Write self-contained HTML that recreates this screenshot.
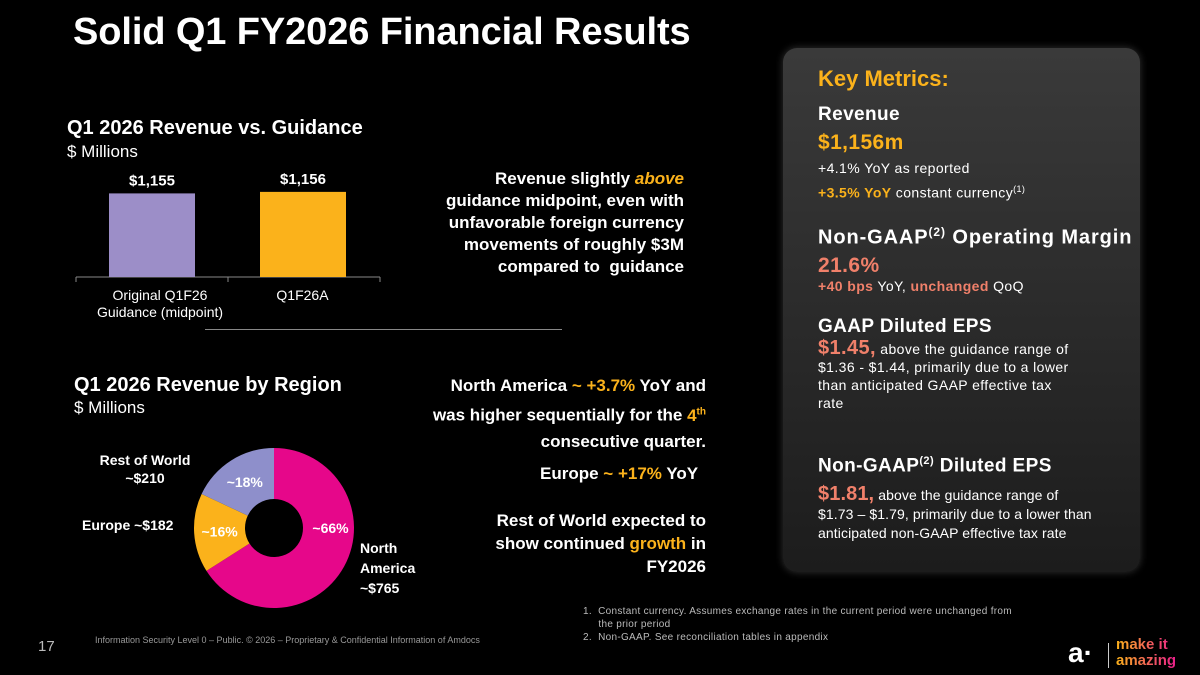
<!DOCTYPE html>
<html><head><meta charset="utf-8"><style>
body{margin:0;width:1200px;height:675px;background:#000;overflow:hidden;position:relative;font-family:"Century Gothic","Liberation Sans",sans-serif;color:#fff}
.a{position:absolute;white-space:nowrap}
.b{font-weight:bold}
.y{color:#fbb21b}.o{color:#f0806a}
.p{letter-spacing:0.4px}
</style></head><body>
<div class="a b" style="left:73px;top:11px;font-size:38px;letter-spacing:-0.1px">Solid Q1 FY2026 Financial Results</div>
<div class="a b" style="left:67px;top:117px;font-size:20px">Q1 2026 Revenue vs. Guidance</div>
<div class="a" style="left:67px;top:142px;font-size:17px">$ Millions</div>
<svg class="a" style="left:0;top:0" width="600" height="620" id="svg"></svg>
<div class="a" style="left:60px;top:287px;width:200px;text-align:center;font-size:14px;line-height:17px">Original Q1F26<br>Guidance (midpoint)</div>
<div class="a" style="left:230px;top:287px;width:145px;text-align:center;font-size:14px">Q1F26A</div>
<div class="a b" style="left:384px;top:168px;width:300px;text-align:right;font-size:17px;line-height:22px">Revenue slightly <span class="y" style="font-style:italic">above</span><br>guidance midpoint, even with<br>unfavorable foreign currency<br>movements of roughly $3M<br>compared to &nbsp;guidance</div>
<div class="a" style="left:205px;top:329px;width:357px;height:1px;background:#888"></div>
<div class="a b" style="left:74px;top:374px;font-size:20px">Q1 2026 Revenue by Region</div>
<div class="a" style="left:74px;top:398px;font-size:17px">$ Millions</div>
<div class="a b" style="left:380px;top:373px;width:326px;text-align:right;font-size:17px;line-height:26px">North America <span class="y">~ +3.7%</span> YoY and<br>was higher sequentially for the <span class="y">4<sup style="font-size:10px">th</sup></span><br>consecutive quarter.</div>
<div class="a b" style="left:540px;top:464px;font-size:17px">Europe <span class="y">~ +17%</span> YoY</div>
<div class="a b" style="left:440px;top:509px;width:266px;text-align:right;font-size:17px;line-height:23px">Rest of World expected to<br>show continued <span class="y">growth</span> in<br>FY2026</div>
<div class="a b" style="left:90px;top:451px;width:110px;text-align:center;font-size:14px;line-height:18px">Rest of World<br>~$210</div>
<div class="a b" style="left:82px;top:517px;font-size:14px">Europe ~$182</div>
<div class="a b" style="left:360px;top:538px;font-size:14px;line-height:20px">North<br>America<br>~$765</div>
<div class="a" style="left:783px;top:48px;width:357px;height:524px;border-radius:14px;background:linear-gradient(180deg,#3a3a3a,#1c1c1c);box-shadow:0 0 8px #333"></div>
<div class="a b y" style="left:818px;top:66px;font-size:22px">Key Metrics:</div>
<div class="a b p" style="left:818px;top:104px;font-size:19px">Revenue</div>
<div class="a b y p" style="left:818px;top:131px;font-size:21px">$1,156m</div>
<div class="a p" style="left:818px;top:160px;font-size:14px">+4.1% YoY as reported</div>
<div class="a p" style="left:818px;top:184px;font-size:14px"><b class="y">+3.5% YoY</b> constant currency<sup style="font-size:9px">(1)</sup></div>
<div class="a b p" style="left:818px;top:225px;font-size:20px;letter-spacing:0.9px">Non-GAAP<sup style="font-size:12px">(2)</sup> Operating Margin</div>
<div class="a b o p" style="left:818px;top:254px;font-size:21px">21.6%</div>
<div class="a p" style="left:818px;top:278px;font-size:14px"><b class="o">+40 bps</b> YoY, <b class="o">unchanged</b> QoQ</div>
<div class="a b p" style="left:818px;top:316px;font-size:19px">GAAP Diluted EPS</div>
<div class="a p" style="left:818px;top:339px;font-size:14px;line-height:18px"><b class="o" style="font-size:20px">$1.45,</b> above the guidance range of<br>$1.36 - $1.44, primarily due to a lower<br>than anticipated GAAP effective tax<br>rate</div>
<div class="a b p" style="left:818px;top:455px;font-size:19px">Non-GAAP<sup style="font-size:11px">(2)</sup> Diluted EPS</div>
<div class="a" style="left:818px;top:485px;font-size:14px;line-height:19px;letter-spacing:0.1px"><b class="o" style="font-size:20px">$1.81,</b> above the guidance range of<br>$1.73 – $1.79, primarily due to a lower than<br>anticipated non-GAAP effective tax rate</div>
<div class="a" style="left:583px;top:605px;font-size:10px;line-height:13px;color:#bbb;letter-spacing:0.3px">1.&nbsp; Constant currency. Assumes exchange rates in the current period were unchanged from<br>&nbsp;&nbsp;&nbsp;&nbsp; the prior period<br>2.&nbsp; Non-GAAP. See reconciliation tables in appendix</div>
<div class="a" style="left:38px;top:638px;font-size:15px;color:#bbb">17</div>
<div class="a" style="left:95px;top:635px;font-size:9px;color:#999">Information Security Level 0 – Public. © 2026 – Proprietary &amp; Confidential Information of Amdocs</div>
<div class="a b" style="left:1068px;top:640px;font-size:28px;line-height:26px">a·</div>
<div class="a" style="left:1108px;top:643px;width:1px;height:25px;background:#ccc"></div>
<div class="a b" style="left:1116px;top:637px;font-size:15px;line-height:16px;background:linear-gradient(90deg,#fbb21b,#e91e8c);-webkit-background-clip:text;color:transparent">make it<br>amazing</div>
<script>
const barCats=["Original Q1F26 Guidance (midpoint)","Q1F26A"];
const barVals=[1155,1156];
const barLabels=["$1,155","$1,156"];
const regions=["North America","Europe","Rest of World"];
const regionShares=[66,16,18];
const regionPctLabels=["~66%","~16%","~18%"];
const svg=document.getElementById('svg');const NS="http://www.w3.org/2000/svg";
function mk(t,a){const e=document.createElementNS(NS,t);for(const k in a)e.setAttribute(k,a[k]);svg.appendChild(e);return e;}
const base=277,yv=v=>base-(v-1100)*1.52,barColors=["#9c8ec8","#fbb21b"];
const ax=mk('line',{x1:76,y1:base,x2:380,y2:base,stroke:'#888','stroke-width':1});


[76,228,380].forEach(x=>{const t=mk('line',{x1:x,y1:base,x2:x,y2:base+5,stroke:'#888'});

});
barVals.forEach((v,i)=>{const cx=152+i*151;
const r=mk('rect',{x:cx-43,y:yv(v),width:86,height:base-yv(v),fill:barColors[i]});


const t=mk('text',{x:cx,y:yv(v)-8,'text-anchor':'middle',fill:'#fff','font-size':15,'font-weight':'bold','font-family':'Liberation Sans,sans-serif'});t.textContent=barLabels[i];

});
const cx=274,cy=528,R=80,r0=29,cols=["#e6078a","#fbb21b","#8e8fcb"];
const tot=regionShares.reduce((a,b)=>a+b,0);let a0=0;
regionShares.forEach((s,i)=>{const a1=a0+s/tot*2*Math.PI;
const p=(a,rad)=>[cx+rad*Math.sin(a),cy-rad*Math.cos(a)];
const [x1,y1]=p(a0,R),[x2,y2]=p(a1,R),[x3,y3]=p(a1,r0),[x4,y4]=p(a0,r0),lg=(a1-a0)>Math.PI?1:0;
const path=mk('path',{d:`M${x1} ${y1}A${R} ${R} 0 ${lg} 1 ${x2} ${y2}L${x3} ${y3}A${r0} ${r0} 0 ${lg} 0 ${x4} ${y4}Z`,fill:cols[i]});


let m=(a0+a1)/2;if(i==0)m=Math.min(m,Math.PI/2);
const [lx,ly]=p(m,(R+r0)/2+(i==0?2:0));
const t=mk('text',{x:lx,y:ly+5,'text-anchor':'middle',fill:'#fff','font-size':14,'font-weight':'bold','font-family':'Liberation Sans,sans-serif'});t.textContent=regionPctLabels[i];


a0=a1;});
</script>
</body></html>
